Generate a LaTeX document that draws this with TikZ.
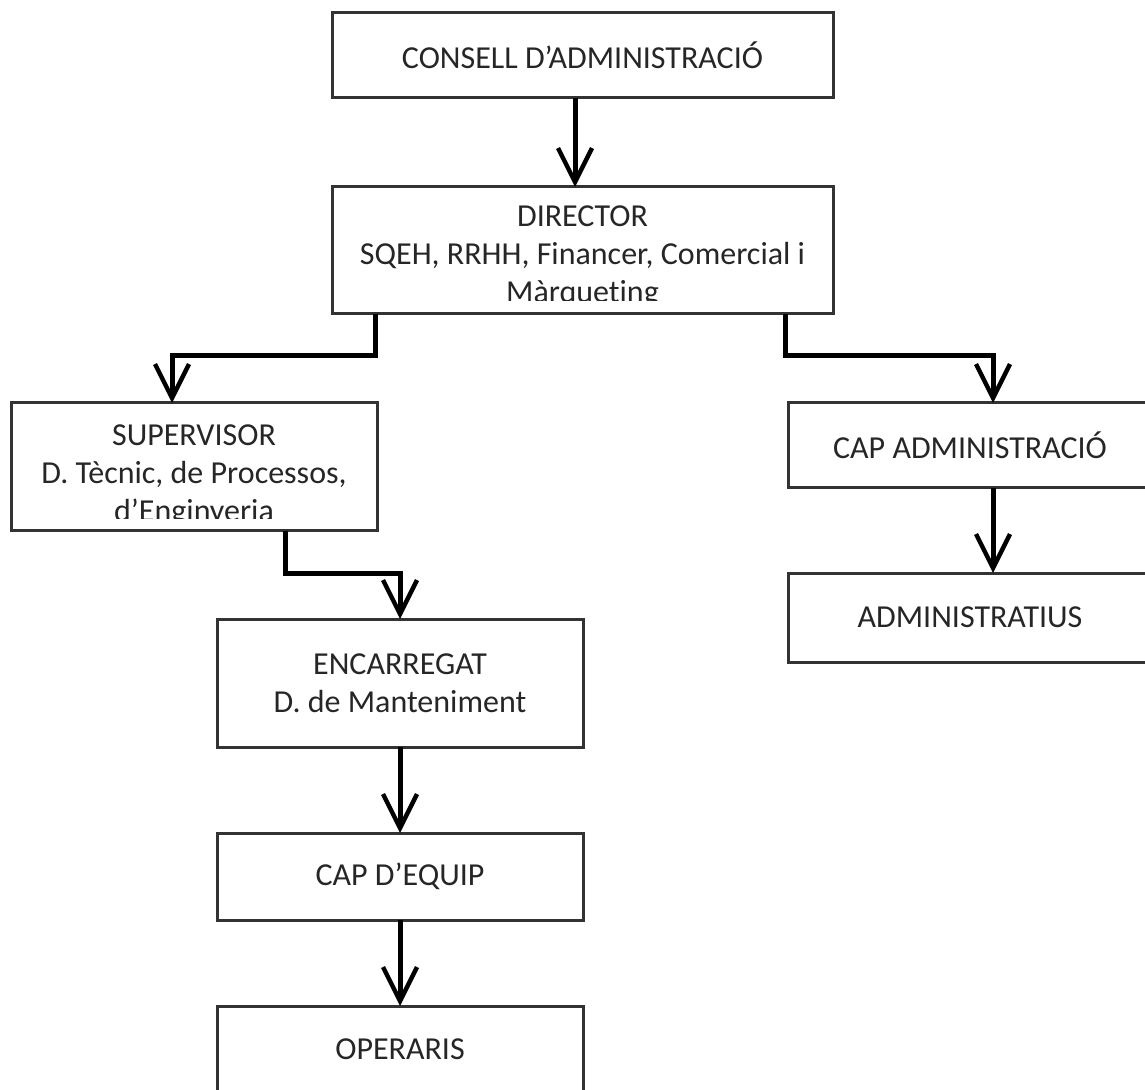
\documentclass[tikz,border=0pt]{standalone}
\usepackage{fontspec}
\setmainfont{Carlito}[Ligatures=NoCommon]
\usetikzlibrary{positioning,arrows.meta}

\begin{document}
\begin{tikzpicture}[x=0.5pt,y=-0.5pt,
                org box/.style={draw=black!80,line width=1.5pt,outer sep=0pt,
                  minimum width=183pt,text=black!85,align=center,
                  font=\fontsize{16pt}{19pt}\selectfont},
                org text/.style={inner sep=0pt,text=black!85,align=center,
                  font=\fontsize{16pt}{19pt}\selectfont},
                link/.style={line width=2.5pt,
                  -{Straight Barb[length=17pt,width=17pt,line width=2.2pt]}},
                elbow/.style={to path={-- ++(0,42) -| (\tikztotarget)}}]

	\useasboundingbox (0,0) rectangle (1145,1090);
	\clip (0,0) rectangle (1145,1090);

	\node[org box,minimum width=250.5pt,minimum height=42.5pt] (cons) at (582.5,55.5) {CONSELL D’ADMINISTRACIÓ};
	\node[org box,minimum width=250.5pt,minimum height=63.5pt] (dir) [below=44.5pt of cons] {};
	\node[org box,minimum height=64pt] (sup) at (194,467) {};
	\node[org box,minimum width=182pt,minimum height=42.5pt] (capadm) at (970,445.5) {CAP ADMINISTRACIÓ};
	\node[org box,minimum width=182pt,minimum height=44.5pt] (admin) [below=42.5pt of capadm] {ADMINISTRATIUS};
	\node[org box,minimum height=64pt] (enc) at (400,683) {ENCARREGAT\\D. de Manteniment};
	\node[org box,minimum height=43.5pt] (equip) [below=43pt of enc] {CAP D’EQUIP};
	\node[org box,minimum height=43.5pt] (oper) [below=43pt of equip] {OPERARIS};

	% texts that overflow their boxes
	\begin{scope}
		\clip (dir.north west) rectangle ([yshift=6.5pt]dir.south east);
		\node[org text] (dirtext) [below=9pt of dir.north] {DIRECTOR\\SQEH, RRHH, Financer, Comercial i\\Màrqueting};
	\end{scope}
	\begin{scope}
		\clip (sup.north west) rectangle ([yshift=6pt]sup.south east);
		\node[org text] (suptext) [below=10.5pt of sup.north] {SUPERVISOR\\D. Tècnic, de Processos,\\d’Enginyeria};
	\end{scope}

	\path[link]
	([xshift=-3.75pt]cons.south) edge ([xshift=-3.75pt]dir.north)
	([xshift=21.5pt]dir.south west) edge[elbow] ([xshift=-11pt]sup.north)
	([xshift=-24pt]dir.south east) edge[elbow] ([xshift=11.5pt]capadm.north)
	([xshift=45.5pt]sup.south) edge[elbow] (enc.north)
	([xshift=11.5pt]capadm.south) edge ([xshift=11.5pt]admin.north)
	(enc.south) edge (equip.north)
	(equip.south) edge (oper.north)
	;
\end{tikzpicture}
\end{document}
